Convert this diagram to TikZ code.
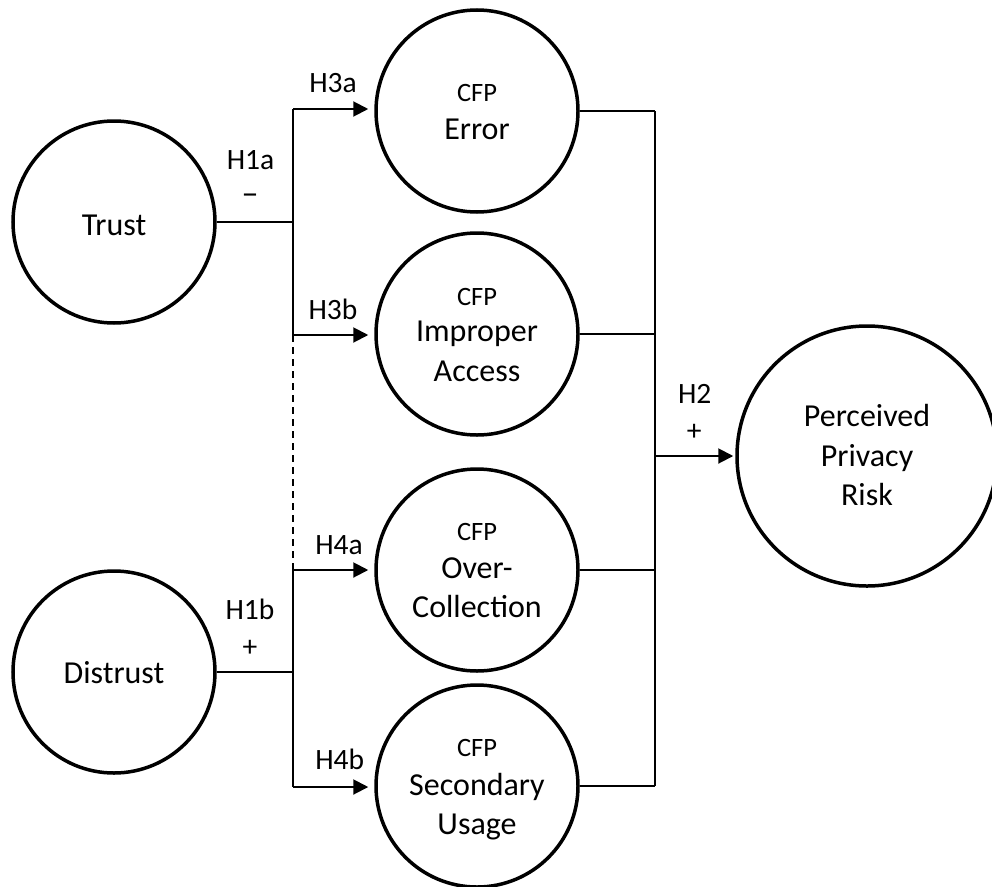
\documentclass[tikz,border=0pt]{standalone}
\usepackage{fontspec}
\setmainfont{Carlito}
\usetikzlibrary{arrows.meta}
\begin{document}
\begin{tikzpicture}[x=1pt,y=-1pt,
  cnode/.style={draw, circle, line width=3.5pt, inner sep=0pt},
  conn/.style={line width=2pt},
  arr/.style={conn, -{Triangle[length=15pt,width=15pt]}},
  maintext/.style={anchor=base, inner sep=0pt, font=\fontsize{32}{38}\selectfont},
  smalltext/.style={anchor=base, inner sep=0pt, font=\fontsize{26.5}{31}\selectfont},
  labtext/.style={anchor=base, inner sep=0pt, font=\fontsize{29.5}{35}\selectfont},
  signtext/.style={anchor=base, inner sep=0pt, font=\fontsize{34}{40}\selectfont}]
\useasboundingbox (0,0) rectangle (992,886);

% circles
\node[cnode, minimum size=202pt] (trust) at (114,222) {};
\node[cnode, minimum size=202pt] (distrust) at (114,672) {};
\node[cnode, minimum size=202pt] (err) at (477,111) {};
\node[cnode, minimum size=202pt] (imp) at (477,334) {};
\node[cnode, minimum size=202pt] (over) at (477,570) {};
\node[cnode, minimum size=202pt] (sec) at (477,786) {};
\node[cnode, minimum size=260pt] (ppr) at (867,456) {};

% texts in circles
\node[maintext] (ttrust) at (114,235) {Trust};
\node[maintext] (tdistrust) at (114,683) {Distrust};
\node[smalltext] (terr1) at (477,101.7) {CFP};
\node[maintext] (terr2) at (477,139.3) {Error};
\node[smalltext] (timp1) at (477,305) {CFP};
\node[maintext] (timp2) at (477,341.7) {Improper};
\node[maintext] (timp3) at (477,381.7) {Access};
\node[smalltext] (tover1) at (477,540.7) {CFP};
\node[maintext] (tover2) at (477,578.3) {Over-};
\node[maintext] (tover3) at (477,617.3) {Collection};
\node[smalltext] (tsec1) at (477,756.7) {CFP};
\node[maintext] (tsec2) at (477,795) {Secondary};
\node[maintext] (tsec3) at (477,834) {Usage};
\node[maintext] (tppr1) at (867,426) {Perceived};
\node[maintext] (tppr2) at (867,466.7) {Privacy};
\node[maintext] (tppr3) at (867,505) {Risk};

% junction coordinates
\coordinate (a1) at (293,109);
\coordinate (a2) at (293,335);
\coordinate (a3) at (293,570);
\coordinate (a4) at (293,787);
\coordinate (jt) at (293,222);
\coordinate (jd) at (293,672);
\coordinate (r1) at (655,111);
\coordinate (r4) at (655,786);
\coordinate (rm) at (655,456);

% left side
\draw[conn] (trust.east) -- (jt);
\draw[conn] (distrust.east) -- (jd);
\draw[conn] (a1) -- (a2);
\draw[conn, dash pattern=on 7pt off 5pt] (a2) -- (a3);
\draw[conn] (a3) -- (a4);
\draw[arr, shorten >=6pt] (a1) -- (a1 -| err.west);
\draw[arr, shorten >=6pt] (a2) -- (a2 -| imp.west);
\draw[arr, shorten >=6pt] (a3) -- (a3 -| over.west);
\draw[arr, shorten >=6pt] (a4) -- (a4 -| sec.west);

% right side
\draw[conn] (err.east) -- (err.east -| r1);
\draw[conn] (imp.east) -- (imp.east -| r1);
\draw[conn] (over.east) -- (over.east -| r1);
\draw[conn] (sec.east) -- (sec.east -| r1);
\draw[conn] (r1) -- (r4);
\draw[arr, shorten >=2pt] (rm) -- (ppr.west);

% labels
\node[labtext] (h3a) at (333,92) {H3a};
\node[labtext] (h1a) at (250.5,169.3) {H1a};
\node[signtext] (h1as) at (250,204) {–};
\node[labtext] (h3b) at (333,319.3) {H3b};
\node[labtext] (h4a) at (339,554.3) {H4a};
\node[labtext] (h1b) at (250,619) {H1b};
\node[labtext] (h1bs) at (250,656.4) {+};
\node[labtext] (h4b) at (339.7,769.3) {H4b};
\node[labtext] (h2) at (694.7,403.3) {H2};
\node[labtext] (h2s) at (694.3,440.4) {+};
\end{tikzpicture}
\end{document}
